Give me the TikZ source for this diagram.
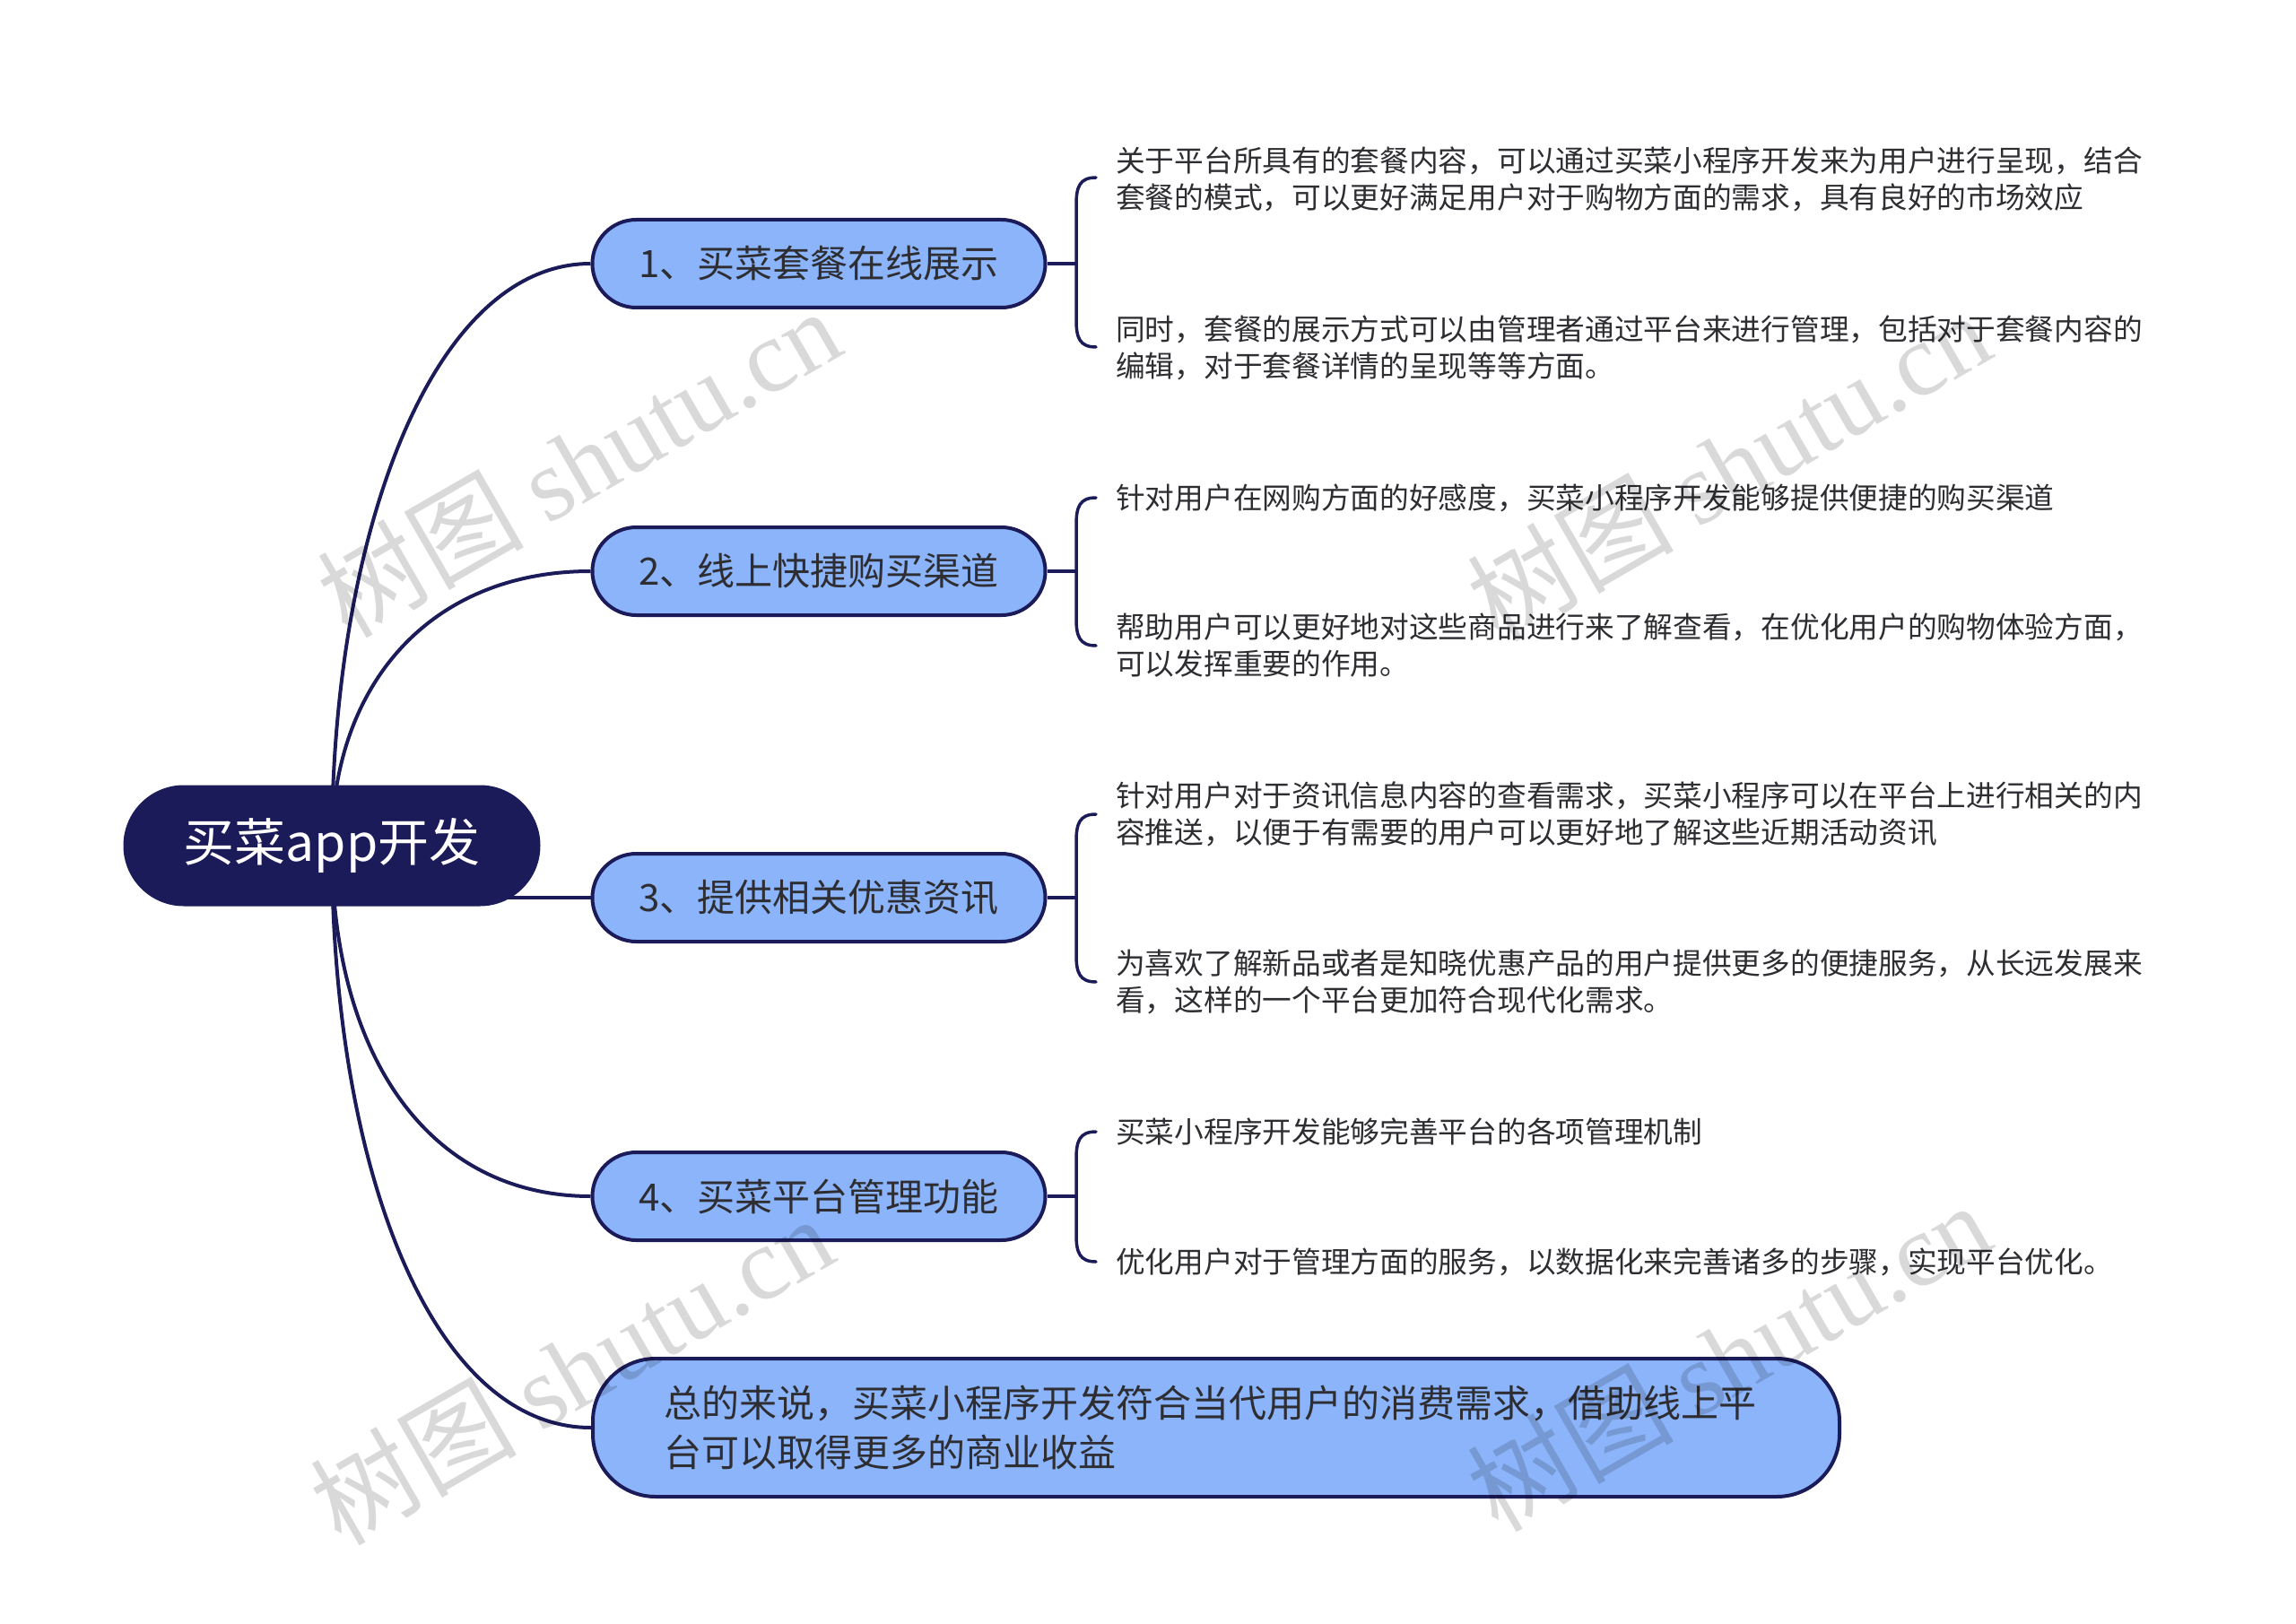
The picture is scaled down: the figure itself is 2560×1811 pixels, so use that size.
\documentclass[tikz,border=0pt]{standalone}
\usepackage{fontspec}
\setmainfont{Noto Sans CJK SC}
\newfontfamily\wmlatin{Liberation Serif}
\usetikzlibrary{backgrounds}
\definecolor{navy}{RGB}{28,27,90}
\definecolor{lightblue}{RGB}{139,180,250}
\definecolor{textgray}{RGB}{45,45,50}
\tikzset{
  rootbox/.style={fill=navy, draw=navy, line width=3pt, rounded corners=66pt, minimum width=462pt, minimum height=132pt, text=white, font=\fontsize{57}{68}\selectfont, inner sep=0pt},
  branchbox/.style={fill=lightblue, draw=navy, line width=4pt, rounded corners=49pt, minimum width=505pt, minimum height=98pt, text=textgray, font=\fontsize{42}{50}\selectfont, inner sep=0pt},
  sumbox/.style={fill=lightblue, draw=navy, line width=4pt, rounded corners=70pt, minimum width=1390pt, minimum height=154pt, text=textgray, font=\fontsize{42}{55.5}\selectfont, inner sep=0pt},
  leaf/.style={anchor=west, inner sep=0pt, align=left, text=textgray, font=\fontsize{32.7}{41}\selectfont},
  link/.style={draw=navy, line width=4pt},
  brace/.style={draw=navy, line width=3.5pt, line cap=round},
  wm/.style={rotate=30, text=black, text opacity=0.15, font=\fontsize{115}{120}\selectfont, inner sep=0pt}
}
\begin{document}
\begin{tikzpicture}[x=1pt,y=-1pt]
\useasboundingbox (0,0) rectangle (2560,1811);

% root and branches
\node[rootbox] (r) at (370,943) {买菜app开发};
\node[branchbox] (n1) at (913,294) {1、买菜套餐在线展示};
\node[branchbox] (n2) at (913,637) {2、线上快捷购买渠道};
\node[branchbox] (n3) at (913,1001) {3、提供相关优惠资讯};
\node[branchbox] (n4) at (913,1334) {4、买菜平台管理功能};
\node[sumbox, align=left, text width=1232pt] (n5) at (1356,1592) {总的来说，买菜小程序开发符合当代用户的消费需求，借助线上平\\台可以取得更多的商业收益};

% connectors behind nodes
\begin{pgfonlayer}{background}
\fill[white] (0,0) rectangle (2560,1811);
\draw[link] (r.center) .. controls (370,600) and (480,294) .. (n1.west);
\draw[link] (r.center) .. controls (370,763) and (480,637) .. (n2.west);
\draw[link] (n3.west) -- (n3.west -| r.center);
\draw[link] (r.center) .. controls (370,1180) and (480,1334) .. (n4.west);
\draw[link] (r.center) .. controls (370,1300) and (480,1592) .. (n5.west);
\end{pgfonlayer}

% brackets
\coordinate (b1) at (1200,294);
\coordinate (b2) at (1200,637);
\coordinate (b3) at (1200,1001);
\coordinate (b4) at (1200,1334);
\draw[link] (n1.east) -- (b1);
\draw[link] (n2.east) -- (b2);
\draw[link] (n3.east) -- (b3);
\draw[link] (n4.east) -- (b4);
\draw[brace] (1222,198) .. controls (1204,198) and (1200,208) .. (1200,228) -- (1200,357) .. controls (1200,377) and (1204,387) .. (1222,387);
\draw[brace] (1222,555) .. controls (1204,555) and (1200,565) .. (1200,585) -- (1200,690) .. controls (1200,710) and (1204,720) .. (1222,720);
\draw[brace] (1222,908) .. controls (1204,908) and (1200,918) .. (1200,938) -- (1200,1065) .. controls (1200,1085) and (1204,1095) .. (1222,1095);
\draw[brace] (1222,1262) .. controls (1204,1262) and (1200,1272) .. (1200,1292) -- (1200,1377) .. controls (1200,1397) and (1204,1407) .. (1222,1407);

% leaves
\node[leaf] (l1a) at (1244,200) {关于平台所具有的套餐内容，可以通过买菜小程序开发来为用户进行呈现，结合\\套餐的模式，可以更好满足用户对于购物方面的需求，具有良好的市场效应};
\node[leaf] (l1b) at (1244,388) {同时，套餐的展示方式可以由管理者通过平台来进行管理，包括对于套餐内容的\\编辑，对于套餐详情的呈现等等方面。};
\node[leaf] (l2a) at (1244,555) {针对用户在网购方面的好感度，买菜小程序开发能够提供便捷的购买渠道};
\node[leaf] (l2b) at (1244,720) {帮助用户可以更好地对这些商品进行来了解查看，在优化用户的购物体验方面，\\可以发挥重要的作用。};
\node[leaf] (l3a) at (1244,908) {针对用户对于资讯信息内容的查看需求，买菜小程序可以在平台上进行相关的内\\容推送，以便于有需要的用户可以更好地了解这些近期活动资讯};
\node[leaf] (l3b) at (1244,1095) {为喜欢了解新品或者是知晓优惠产品的用户提供更多的便捷服务，从长远发展来\\看，这样的一个平台更加符合现代化需求。};
\node[leaf] (l4a) at (1244,1262) {买菜小程序开发能够完善平台的各项管理机制};
\node[leaf] (l4b) at (1244,1407) {优化用户对于管理方面的服务，以数据化来完善诸多的步骤，实现平台优化。};

% watermarks
\node[wm] (w1) at (645,515) {树图 {\wmlatin shutu.cn}};
\node[wm] (w2) at (1927,519) {树图 {\wmlatin shutu.cn}};
\node[wm] (w3) at (637,1527) {树图 {\wmlatin shutu.cn}};
\node[wm] (w4) at (1927,1512) {树图 {\wmlatin shutu.cn}};
\end{tikzpicture}
\end{document}
